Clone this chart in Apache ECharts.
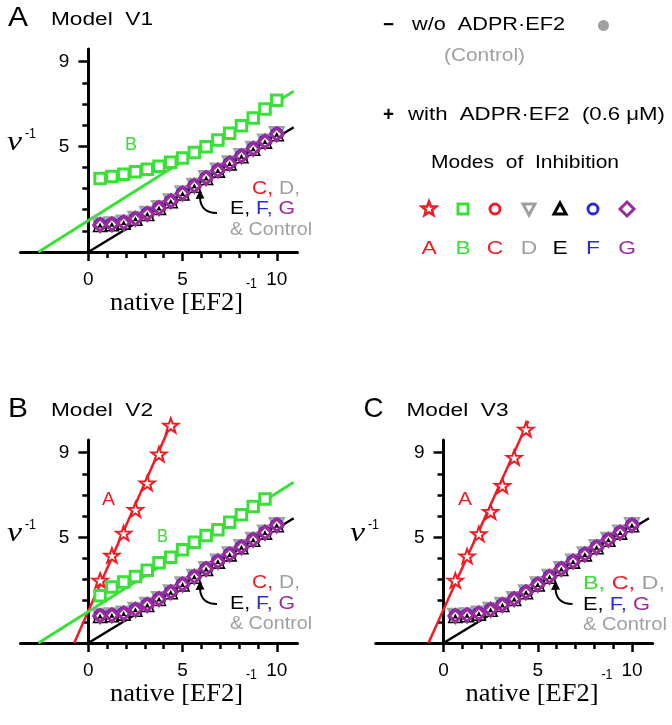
<!DOCTYPE html>
<html><head><meta charset="utf-8">
<script src="https://cdn.jsdelivr.net/npm/echarts@6/dist/echarts.min.js"></script>
<style>html,body{margin:0;padding:0;background:#fff}#c{width:672px;height:725px}</style>
</head><body><div id="c"></div>
<script>
// ---------- data ----------
const xs = [0.625,1.25,1.875,2.5,3.125,3.75,4.375,5,5.625,6.25,6.875,7.5,8.125,8.75,9.375,10];
const controlY = [1.28,1.31,1.39,1.57,1.80,2.08,2.40,2.77,3.13,3.50,3.85,4.19,4.53,4.88,5.22,5.57];
const greenA_Y = [3.47,3.57,3.68,3.79,3.91,4.05,4.24,4.45,4.70,4.98,5.30,5.62,5.97,6.34,6.76,7.18];
const greenB_Y = [2.23,2.65,2.88,3.15,3.44,3.80,4.06,4.41,4.77,5.08,5.36,5.71,6.07,6.45,6.81];
const starB_Y = [2.96,4.14,5.19,6.31,7.56,8.93,10.29];
const starC_Y = [2.96,4.11,5.16,6.21,7.44,8.77,10.10];
const ctrlLine = [[0,0],[10.9,5.9]];
const greenLine = [[-2.65,0],[10.9,7.6]];
const redLineB = [[-0.75,0],[4.45,10.5]];
const redLineC = [[-0.8,0],[4.5,10.5]];
const xMajor = [0,5,10];
const xMinor = [1,2,3,4,6,7,8,9];
const yMajor = [5,9];
const yMinor = [1,2,3,4,6,7,8];
const modes = ['A','B','C','D','E','F','G'];
const titles = ['Model  V1','Model  V2','Model  V3'];
const panelLetters = ['A','B','C'];

// ---------- style ----------
const SANS = '"Liberation Sans", Arial, sans-serif';
const SERIF = '"Liberation Serif", "Times New Roman", serif';
const RED='#ee1c24', GREEN='#38e038', GRAY='#a0a0a0', BLUE='#2b2bd6', PURPLE='#9b2b9b', BLACK='#000';
const STAR = 'path://M100,0L123.5,67.6L195.1,69.1L138,112.4L158.8,180.9L100,140L41.2,180.9L62,112.4L4.9,69.1L76.5,67.6Z';
const XMIN=-3.6, XMAX=11.1, YMIN=0, YMAX=9.6;

const grids = [
  {left:20.5, top:49, width:277, height:203, outerBoundsMode:'none'},
  {left:20.5, top:440, width:277, height:203, outerBoundsMode:'none'},
  {left:375.7, top:440, width:277, height:203, outerBoundsMode:'none'}
];
const xAxes=[], yAxes=[];
grids.forEach((g,i)=>{
  const tickStyle = {color:BLACK, width:2.5};
  const yOff = -(0-XMIN)*g.width/(XMAX-XMIN);   // put y axis at x = 0
  xAxes.push({gridIndex:i, type:'value', min:XMIN, max:XMAX, position:'bottom',
    axisLine:{show:true, onZero:false, lineStyle:{color:BLACK, width:3}},
    axisTick:{show:true, customValues:xMajor, length:9, lineStyle:tickStyle},
    axisLabel:{show:true, customValues:xMajor, margin:18, color:BLACK, fontSize:19, fontFamily:SANS},
    splitLine:{show:false}});
  xAxes.push({gridIndex:i, type:'value', min:XMIN, max:XMAX, position:'bottom',
    axisLine:{show:false, onZero:false},
    axisTick:{show:true, customValues:xMinor, length:6, lineStyle:tickStyle},
    axisLabel:{show:false}, splitLine:{show:false}});
  yAxes.push({gridIndex:i, type:'value', min:YMIN, max:YMAX, position:'left', offset:yOff,
    axisLine:{show:true, onZero:false, lineStyle:{color:BLACK, width:3}},
    axisTick:{show:true, customValues:yMajor, length:10, lineStyle:tickStyle},
    axisLabel:{show:true, customValues:yMajor, margin:19, color:BLACK, fontSize:19, fontFamily:SANS},
    splitLine:{show:false}});
  yAxes.push({gridIndex:i, type:'value', min:YMIN, max:YMAX, position:'left', offset:yOff,
    axisLine:{show:false, onZero:false},
    axisTick:{show:true, customValues:yMinor, length:6, lineStyle:tickStyle},
    axisLabel:{show:false}, splitLine:{show:false}});
});

function pts(ys){ return ys.map((y,i)=>[xs[i], y]); }
function lineS(gi, name, data, color, width){
  return {type:'line', name, xAxisIndex:2*gi, yAxisIndex:2*gi, data, symbol:'none', showSymbol:false,
    clip:false, silent:true, lineStyle:{color, width}, z:2};
}
function scat(gi, name, data, symbol, size, fill, stroke, bw, extra){
  return Object.assign({type:'scatter', name, xAxisIndex:2*gi, yAxisIndex:2*gi, data, symbol, symbolSize:size,
    clip:false, silent:true, itemStyle:{color:fill, borderColor:stroke, borderWidth:bw, opacity:1}, z:3}, extra||{});
}
function ctrlGroup(gi){
  const d = pts(controlY);
  return [
    scat(gi,'Control',d,'circle',7,GRAY,GRAY,0),
    scat(gi,'D',d,'triangle',14,'#fff',GRAY,2.2,{symbolRotate:180}),
    scat(gi,'C',d,'circle',12,'#fff',RED,2),
    {type:'line', name:'F', xAxisIndex:2*gi, yAxisIndex:2*gi, data:d, symbol:'circle', symbolSize:12, showSymbol:true,
      clip:false, silent:true, itemStyle:{color:'#fff', borderColor:BLUE, borderWidth:2.2}, lineStyle:{color:BLUE, width:1.5}, z:3},
    scat(gi,'E',d,'triangle',13,'#fff',BLACK,1.6),
    scat(gi,'G',d,'diamond',12.5,'#fff',PURPLE,3.2),
    scat(gi,'E ',d,'triangle',5,BLACK,BLACK,0)
  ];
}
function squares(gi, ys){ return scat(gi,'B',pts(ys),'rect',10.5,'#fff',GREEN,3); }
function stars(gi, ys){ return scat(gi,'A',pts(ys),STAR,15,'#fff',RED,2,{symbolKeepAspect:true}); }

const series = [
  lineS(0,'B fit',greenLine,GREEN,3),
  lineS(0,'Control fit',ctrlLine,BLACK,2.5),
  squares(0, greenA_Y),
  ...ctrlGroup(0),
  lineS(1,'A fit',redLineB,RED,2.5),
  lineS(1,'B fit',greenLine,GREEN,3),
  lineS(1,'Control fit',ctrlLine,BLACK,2.5),
  stars(1, starB_Y),
  squares(1, greenB_Y),
  ...ctrlGroup(1),
  lineS(2,'A fit',redLineC,RED,2.5),
  lineS(2,'Control fit',ctrlLine,BLACK,2.5),
  stars(2, starC_Y),
  ...ctrlGroup(2)
];

// ---------- text helpers ----------
const mctx = document.createElement('canvas').getContext('2d');
function tw(t, font){ mctx.font = font; return mctx.measureText(t).width; }
function fitParts(parts, font, left, right, cy){
  const full = parts.map(p=>p[0]).join('');
  const s = (right-left)/tw(full,font);
  const els=[]; let acc='';
  parts.forEach(([t,c])=>{
    els.push({type:'text', x:left + s*tw(acc,font), y:cy, scaleX:s, silent:true, z:100,
      style:{text:t, font, fill:c, align:'left', verticalAlign:'middle'}});
    acc += t;
  });
  return els;
}
function cText(t, font, cx, cy, color, s){
  return {type:'text', x:cx, y:cy, scaleX:s||1, silent:true, z:100,
    style:{text:t, font, fill:color, align:'center', verticalAlign:'middle'}};
}
const F18 = '18px '+SANS;
const G = [];
const P = [{dx:0,dy:0},{dx:0,dy:391},{dx:355.5,dy:391}];
P.forEach((p,i)=>{
  G.push(...fitParts([[panelLetters[i],BLACK]], '28px '+SANS, 8+p.dx, 28+p.dx, 18+p.dy));
  G.push(...fitParts([[titles[i],BLACK]], '18px '+SANS, 51+p.dx, 153+p.dx, 20+p.dy));
  const nx = i===2 ? 350 : 7;
  G.push(...fitParts([['ν',BLACK]], 'italic 28px '+SERIF, nx, nx+15, 143+p.dy));
  G.push(...fitParts([['-1',BLACK]], '14px '+SANS, nx+18, nx+29, 134+p.dy));
  G.push(...fitParts([['native [EF2]',BLACK]], '25px '+SERIF, 110+p.dx, 243+p.dx, 303+p.dy));
  G.push(...fitParts([['-1',BLACK]], '14px '+SANS, 246+p.dx, 257+p.dx, 284+p.dy));
  G.push({type:'bezierCurve', silent:true, z:100, shape:{x1:217+p.dx, y1:213+p.dy, cpx1:201+p.dx, cpy1:213+p.dy, x2:200+p.dx, y2:198+p.dy},
    style:{stroke:BLACK, lineWidth:2, fill:null}});
  G.push({type:'polygon', silent:true, z:100, shape:{points:[[200+p.dx,190+p.dy],[195.5+p.dx,199+p.dy],[204.5+p.dx,198.5+p.dy]]},
    style:{fill:BLACK}});
});
G.push(...fitParts([['B',GREEN]], F18, 125, 137, 145));
G.push(...fitParts([['C,',RED],[' D,',GRAY]], F18, 252, 300, 189));
G.push(...fitParts([['E,',BLACK],[' F,',BLUE],[' G',PURPLE]], F18, 230, 295, 209));
G.push(...fitParts([['& Control',GRAY]], F18, 230, 312, 230));
G.push(...fitParts([['A',RED]], F18, 102, 115, 500));
G.push(...fitParts([['B',GREEN]], F18, 157, 168, 537));
G.push(...fitParts([['C,',RED],[' D,',GRAY]], F18, 252, 300, 583));
G.push(...fitParts([['E,',BLACK],[' F,',BLUE],[' G',PURPLE]], F18, 230, 295, 604));
G.push(...fitParts([['& Control',GRAY]], F18, 230, 312, 624));
G.push(...fitParts([['A',RED]], F18, 458, 472, 500));
G.push(...fitParts([['B,',GREEN],[' C,',RED],[' D,',GRAY]], F18, 583, 665, 584));
G.push(...fitParts([['E,',BLACK],[' F,',BLUE],[' G',PURPLE]], F18, 583, 650, 605));
G.push(...fitParts([['& Control',GRAY]], F18, 583, 667, 625));
G.push(...fitParts([['−',BLACK]], 'bold 20px '+SANS, 383, 394, 25));
G.push(...fitParts([['w/o  ADPR·EF2',BLACK]], F18, 412, 565, 25));
G.push({type:'circle', silent:true, z:100, shape:{cx:603.5, cy:25.5, r:5.5}, style:{fill:GRAY}});
G.push(...fitParts([['(Control)',GRAY]], F18, 444, 525, 56));
G.push(...fitParts([['+',BLACK]], 'bold 20px '+SANS, 383, 394, 115));
G.push(...fitParts([['with  ADPR·EF2  (0.6 μM)',BLACK]], F18, 408, 665, 115));
G.push(...fitParts([['Modes  of  Inhibition',BLACK]], F18, 431, 619, 163));
const legX = [429,463,495,529,560,593,627];
const legColors = [RED,GREEN,RED,GRAY,BLACK,BLUE,PURPLE];
const sy = 209;
function starPts(cx,cy,R,r){ const a=[]; for(let k=0;k<10;k++){ const ang=-Math.PI/2+k*Math.PI/5; const rr=k%2?r:R; a.push([cx+rr*Math.cos(ang), cy+rr*Math.sin(ang)]);} return a; }
const lw = 3;
G.push({type:'polygon', silent:true, z:100, shape:{points:starPts(legX[0],sy,7.5,3.2)}, style:{fill:'#fff', stroke:RED, lineWidth:2.6}});
G.push({type:'rect', silent:true, z:100, shape:{x:legX[1]-5, y:sy-5, width:10, height:10}, style:{fill:'#fff', stroke:GREEN, lineWidth:lw}});
G.push({type:'circle', silent:true, z:100, shape:{cx:legX[2], cy:sy, r:5}, style:{fill:'#fff', stroke:RED, lineWidth:lw}});
G.push({type:'polygon', silent:true, z:100, shape:{points:[[legX[3]-6,sy-5],[legX[3]+6,sy-5],[legX[3],sy+6]]}, style:{fill:'#fff', stroke:GRAY, lineWidth:lw}});
G.push({type:'polygon', silent:true, z:100, shape:{points:[[legX[4],sy-6],[legX[4]+6,sy+5],[legX[4]-6,sy+5]]}, style:{fill:'#fff', stroke:BLACK, lineWidth:lw}});
G.push({type:'circle', silent:true, z:100, shape:{cx:legX[5], cy:sy, r:5}, style:{fill:'#fff', stroke:BLUE, lineWidth:lw}});
G.push({type:'polygon', silent:true, z:100, shape:{points:[[legX[6],sy-7],[legX[6]+7,sy],[legX[6],sy+7],[legX[6]-7,sy]]}, style:{fill:'#fff', stroke:PURPLE, lineWidth:lw}});
modes.forEach((m,i)=>{ G.push(cText(m, '19px '+SANS, legX[i], 249, legColors[i], 1.2)); });

const chart = echarts.init(document.getElementById('c'), null, {renderer:'canvas'});
chart.setOption({
  animation:false, backgroundColor:'#fff',
  grid: grids, xAxis: xAxes, yAxis: yAxes, series: series,
  graphic: G
});
</script></body></html>
